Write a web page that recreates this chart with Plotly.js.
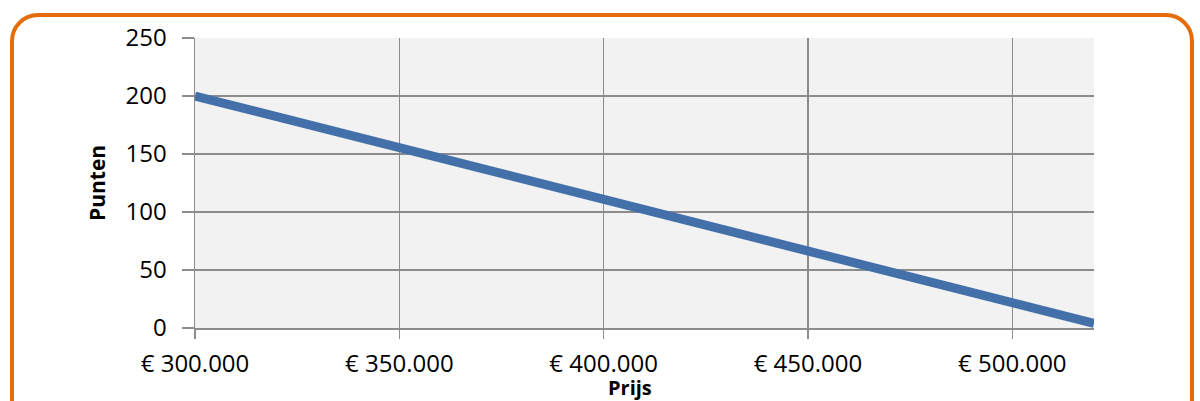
<!DOCTYPE html>
<html>
<head>
<meta charset="utf-8">
<script src="https://cdn.plot.ly/plotly-3.0.1.min.js"></script>
<style>
html, body { margin: 0; padding: 0; background: #ffffff; }
#frame { position: absolute; left: 10px; top: 13px; width: 1184px; height: 420px;
  border: 4px solid #E46C0A; border-radius: 28px; box-sizing: border-box; }
#chart { position: absolute; left: 0; top: 0; width: 1200px; height: 401px; }
</style>
</head>
<body>
<div id="frame"></div>
<div id="chart"></div>
<script>
const prices = [300000, 350000, 400000, 450000, 500000, 520000];
const points = [200, 155.5, 111, 66.5, 22, 4];
const xTickVals = [300000, 350000, 400000, 450000, 500000];
const xTickText = ['€ 300.000', '€ 350.000', '€ 400.000', '€ 450.000', '€ 500.000'];
const yTickVals = [0, 50, 100, 150, 200, 250];
const xTitle = 'Prijs';
const yTitle = 'Punten';

const font = 'Open Sans, Noto Sans, sans-serif';

Plotly.newPlot('chart', [{
  x: prices, y: points, type: 'scatter', mode: 'lines',
  line: { color: '#4470AA', width: 9 }, hoverinfo: 'skip'
}], {
  width: 1200, height: 401,
  margin: { l: 195, r: 106, t: 38, b: 73 },
  paper_bgcolor: 'rgba(0,0,0,0)',
  plot_bgcolor: '#F2F2F2',
  showlegend: false,
  font: { family: font, color: '#000000', size: 24 },
  xaxis: {
    range: [300000, 520000], tickvals: xTickVals, ticktext: xTickText,
    showgrid: true, gridcolor: '#8C8C8C', gridwidth: 1.5,
    showline: true, linecolor: '#8C8C8C', linewidth: 1.5,
    ticks: 'outside', ticklen: 9, tickcolor: '#8C8C8C', tickwidth: 1.5,
    ticklabelstandoff: 5,
    tickfont: { family: font, size: 24 }, zeroline: false, fixedrange: true
  },
  yaxis: {
    range: [0, 250], tickvals: yTickVals,
    showgrid: true, gridcolor: '#8C8C8C', gridwidth: 1.5,
    showline: true, linecolor: '#8C8C8C', linewidth: 1.5,
    ticks: 'outside', ticklen: 12, tickcolor: '#8C8C8C', tickwidth: 1.5,
    ticklabelstandoff: 10,
    tickfont: { family: font, size: 24 }, zeroline: false, fixedrange: true
  },
  annotations: [
    { text: '<b>' + xTitle + '</b>', xref: 'paper', yref: 'paper', x: 0.4835, y: -0.205,
      xanchor: 'center', yanchor: 'middle', showarrow: false, font: { family: font, size: 20 } },
    { text: '<b>' + yTitle + '</b>', xref: 'paper', yref: 'paper', x: -0.109, y: 0.5,
      xanchor: 'center', yanchor: 'middle', textangle: -90, showarrow: false, font: { family: font, size: 21 } }
  ]
}, { displayModeBar: false, staticPlot: true });
</script>
</body>
</html>
